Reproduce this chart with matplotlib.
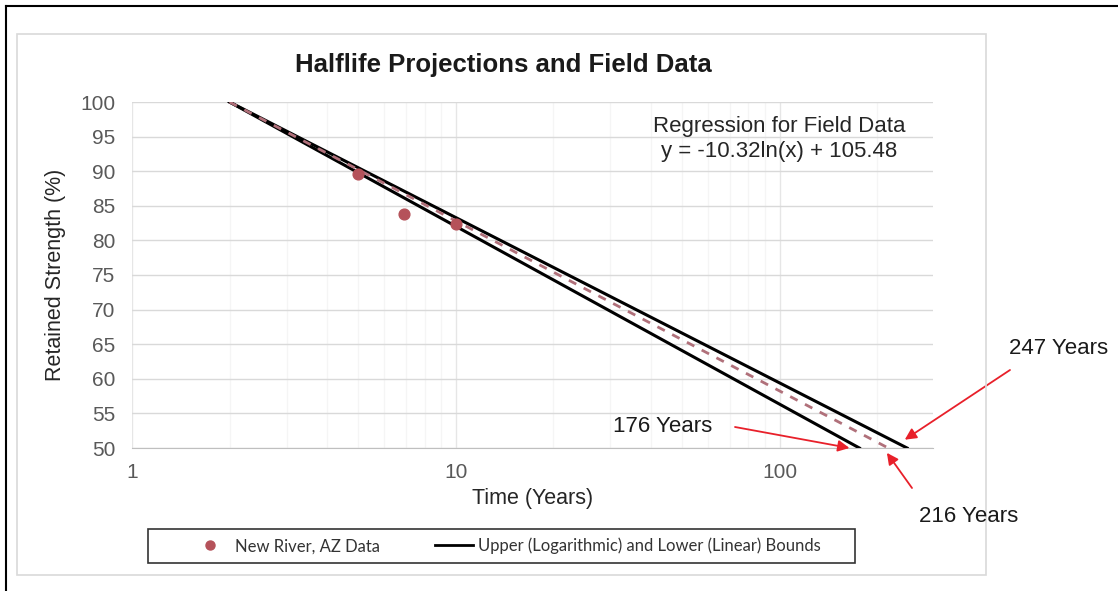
import matplotlib.pyplot as plt
from matplotlib.patches import Rectangle
from matplotlib.lines import Line2D
from matplotlib.ticker import FixedLocator, NullFormatter

plt.rcParams['font.family'] = ['Liberation Sans', 'DejaVu Sans']

# --- data ---
field_years = [5, 6.9, 10]
field_strength = [89.6, 83.8, 82.4]

upper_years = [2, 247]      # logarithmic bound
lower_years = [2, 176]      # linear bound
reg_years = [2, 216]        # regression for field data
bound_strength = [100, 50]

y_ticks = [50, 55, 60, 65, 70, 75, 80, 85, 90, 95, 100]
x_ticks = [1, 10, 100]
x_minor = [2, 3, 4, 5, 6, 7, 8, 9, 20, 30, 40, 50, 60, 70, 80, 90, 200]

W, H = 1118, 591
fig = plt.figure(figsize=(W / 100, H / 100), dpi=100)

# outer black frame and inner chart box
fig.add_artist(Line2D([5.5 / W, 5.5 / W], [0, 1 - 5.5 / H], color='black', lw=1.5))
fig.add_artist(Line2D([5.5 / W, 1], [1 - 5.5 / H, 1 - 5.5 / H], color='black', lw=1.5))
fig.add_artist(Rectangle((17 / W, 1 - 575 / H), (986 - 17) / W, (575 - 34) / H,
                         fill=False, edgecolor='#d9d9d9', lw=1.2))

ax = fig.add_axes([132 / W, 1 - 448 / H, (933 - 132) / W, (448 - 102) / H])
ax.set_xscale('log')
ax.set_xlim(1, 297)
ax.set_ylim(50, 100)

ax.xaxis.set_major_locator(FixedLocator(x_ticks))
ax.xaxis.set_minor_locator(FixedLocator(x_minor))
ax.xaxis.set_minor_formatter(NullFormatter())
ax.set_xticklabels([str(v) for v in x_ticks])
ax.set_yticks(y_ticks)

ax.grid(True, which='major', axis='y', color='#d9d9d9', lw=1)
ax.grid(True, which='major', axis='x', color='#e6e6e6', lw=1)
ax.grid(True, which='minor', axis='x', color='#f5f5f5', lw=1)
for s in ['top', 'right', 'left']:
    ax.spines[s].set_visible(False)
ax.spines['bottom'].set_color('#bfbfbf')
ax.tick_params(which='both', length=0)
ax.tick_params(axis='both', labelsize=15, labelcolor='#595959')
ax.tick_params(axis='x', pad=11)
ax.tick_params(axis='y', pad=12)

ax.plot(upper_years, bound_strength, color='black', lw=2.2, zorder=3)
ax.plot(lower_years, bound_strength, color='black', lw=2.2, zorder=3)
ax.plot(reg_years, bound_strength, color='#b0707a', lw=2, ls=(0, (3, 3)), zorder=4)
ax.scatter(field_years, field_strength, s=60, color='#b5525a', zorder=5)

ax.set_xlabel('Time (Years)', fontsize=15.5, color='#262626', labelpad=4)
ax.set_ylabel('Retained Strength (%)', fontsize=15.5, color='#262626', labelpad=10)

fig.text(503 / W, 1 - 65 / H, 'Halflife Projections and Field Data', fontsize=18.5,
         fontweight='bold', ha='center', va='center', color='#1a1a1a')
fig.text(779 / W, 1 - 139 / H, 'Regression for Field Data\ny = -10.32ln(x) + 105.48',
         ha='center', va='center', fontsize=16, color='#262626', linespacing=1.3)

# arrow annotations
arrow = dict(arrowstyle='-|>', color='#e8202a', lw=1.3, mutation_scale=17,
             shrinkA=0, shrinkB=0)
labels = [('247 Years', (1059, 349)), ('176 Years', (663, 426)), ('216 Years', (969, 517))]
for txt, (px, py) in labels:
    fig.text(px / W, 1 - py / H, txt, fontsize=16, ha='center', va='center',
             color='#1a1a1a')
ax.annotate('', xy=(243, 51.2), xytext=(1010, H - 370), textcoords='figure pixels',
            annotation_clip=False, arrowprops=arrow)
ax.annotate('', xy=(164, 50.0), xytext=(735, H - 427), textcoords='figure pixels',
            annotation_clip=False, arrowprops=arrow)
ax.annotate('', xy=(214, 49.3), xytext=(912, H - 488), textcoords='figure pixels',
            annotation_clip=False, arrowprops=arrow)

# legend: box drawn separately, entries centred inside it
fig.add_artist(Rectangle((148 / W, 1 - 563 / H), (855 - 148) / W, (563 - 529) / H,
                         fill=False, edgecolor='#333333', lw=1.2))
handles = [Line2D([], [], marker='o', ls='none', color='#b5525a', markersize=6.5),
           Line2D([], [], color='black', lw=2)]
leg = fig.legend(handles, ['New River, AZ Data', 'Upper (Logarithmic) and Lower (Linear) Bounds'],
                 loc='center', bbox_to_anchor=(506 / W, 1 - 546 / H), ncol=2,
                 frameon=False, prop={'family': 'Lato', 'size': 12},
                 handlelength=2.3, columnspacing=3.3, handletextpad=0.3,
                 borderaxespad=0)
for t in leg.get_texts():
    t.set_color('#333333')

fig.savefig('out.png', dpi=100)
